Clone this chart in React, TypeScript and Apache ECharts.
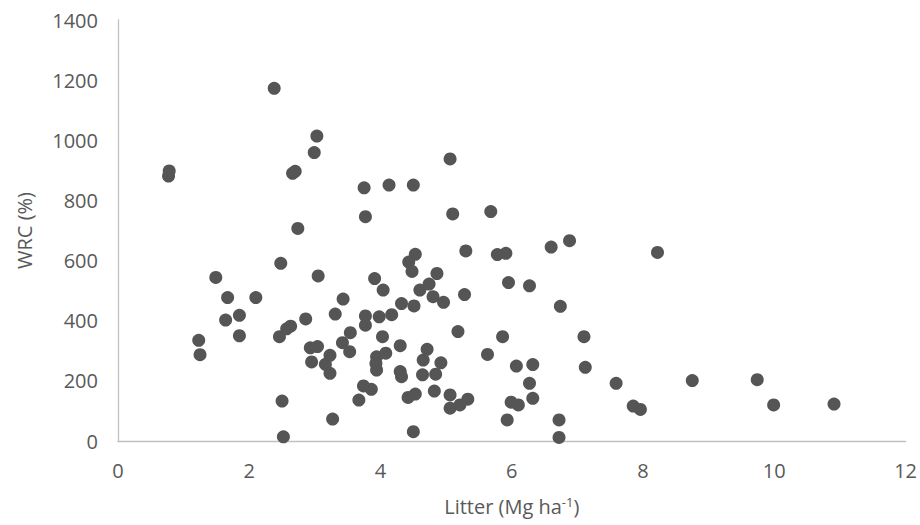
import React, { useEffect, useRef } from "react";
import * as echarts from "echarts";

const litter: number[] = [
  0.77, 0.78, 1.23, 1.25, 1.49, 1.64, 1.67, 1.85, 1.85, 2.10,
  2.38, 2.46, 2.48, 2.50, 2.52, 2.57, 2.63, 2.66, 2.70, 2.74,
  2.86, 2.93, 2.95, 2.99, 3.03, 3.04, 3.05, 3.16, 3.23, 3.23,
  3.27, 3.31, 3.42, 3.43, 3.53, 3.54, 3.67, 3.74, 3.75, 3.77,
  3.77, 3.77, 3.86, 3.91, 3.94, 3.94, 3.93, 3.98, 4.03, 4.04,
  4.08, 4.13, 4.17, 4.32, 4.30, 4.30, 4.32, 4.42, 4.43, 4.48,
  4.50, 4.50, 4.51, 4.53, 4.53, 4.60, 4.64, 4.65, 4.71, 4.74,
  4.80, 4.82, 4.84, 4.86, 4.92, 4.96, 5.06, 5.06, 5.06, 5.10,
  5.18, 5.21, 5.28, 5.30, 5.33, 5.63, 5.68, 5.78, 5.86, 5.91,
  5.93, 5.95, 5.99, 6.07, 6.10, 6.27, 6.27, 6.32, 6.32, 6.60,
  6.72, 6.72, 6.74, 6.88, 7.10, 7.12, 7.59, 7.85, 7.96, 8.22,
  8.75, 9.74, 9.99, 10.91,
];

const wrc: number[] = [
  881, 898, 335, 287, 544, 402, 477, 418, 350, 477,
  1173, 347, 591, 133, 14, 373, 382, 890, 897, 707,
  406, 310, 263, 959, 1014, 314, 549, 255, 285, 225,
  73, 422, 327, 472, 297, 360, 136, 183, 842, 746,
  416, 385, 172, 540, 280, 236, 258, 413, 347, 502,
  292, 851, 420, 457, 317, 231, 214, 145, 595, 564,
  851, 31, 449, 621, 156, 502, 220, 269, 305, 522,
  480, 166, 222, 557, 260, 461, 938, 153, 109, 755,
  364, 120, 487, 632, 139, 288, 763, 620, 347, 624,
  70, 527, 129, 249, 120, 516, 192, 254, 142, 645,
  70, 12, 448, 666, 347, 245, 192, 116, 105, 627,
  201, 204, 120, 123,
];

const xTicks = { min: 0, max: 12, interval: 2 };
const yTicks = { min: 0, max: 1400, interval: 200 };

const FONT = "'Open Sans', sans-serif";
const TEXT = "#595959";

export default function App() {
  const ref = useRef<HTMLDivElement>(null);
  useEffect(() => {
    if (!ref.current) return;
    const chart = echarts.init(ref.current, undefined, { renderer: "svg" });
    const data = litter.map((x, i) => [x, wrc[i]]);
    chart.setOption({
      animation: false,
      backgroundColor: "#ffffff",
      grid: { left: 118, right: 14, top: 20, bottom: 84, containLabel: false },
      xAxis: {
        type: "value",
        min: xTicks.min,
        max: xTicks.max,
        interval: xTicks.interval,
        axisLine: { show: true, onZero: false, lineStyle: { color: "#c0c0c0", width: 1.3 } },
        axisTick: { show: false },
        splitLine: { show: false },
        axisLabel: { color: TEXT, fontFamily: FONT, fontSize: 20, margin: 19, formatter: (v: number) => String(v) },
        name: "{a|Litter (Mg ha}{s|-1}{a|)}",
        nameLocation: "middle",
        nameGap: 54,
        nameTextStyle: {
          rich: {
            a: { color: TEXT, fontFamily: FONT, fontSize: 20 },
            s: { color: TEXT, fontFamily: FONT, fontSize: 13, padding: [0, 0, 9, 0] },
          },
        },
      },
      yAxis: {
        type: "value",
        min: yTicks.min,
        max: yTicks.max,
        interval: yTicks.interval,
        axisLine: { show: true, onZero: false, lineStyle: { color: "#c0c0c0", width: 1.3 } },
        axisTick: { show: false },
        splitLine: { show: false },
        axisLabel: { color: TEXT, fontFamily: FONT, fontSize: 20, margin: 20, formatter: (v: number) => String(v) },
        name: "WRC (%)",
        nameLocation: "middle",
        nameGap: 84,
        nameTextStyle: { color: TEXT, fontFamily: FONT, fontSize: 20 },
      },
      series: [
        {
          type: "scatter",
          data,
          symbol: "circle",
          symbolSize: 13,
          itemStyle: { color: "#555555", opacity: 1 },
        },
      ],
    });
    return () => chart.dispose();
  }, []);
  return (
    <div
      ref={ref}
      style={{ position: "absolute", left: 0, top: 0, width: 920, height: 525 }}
    />
  );
}
